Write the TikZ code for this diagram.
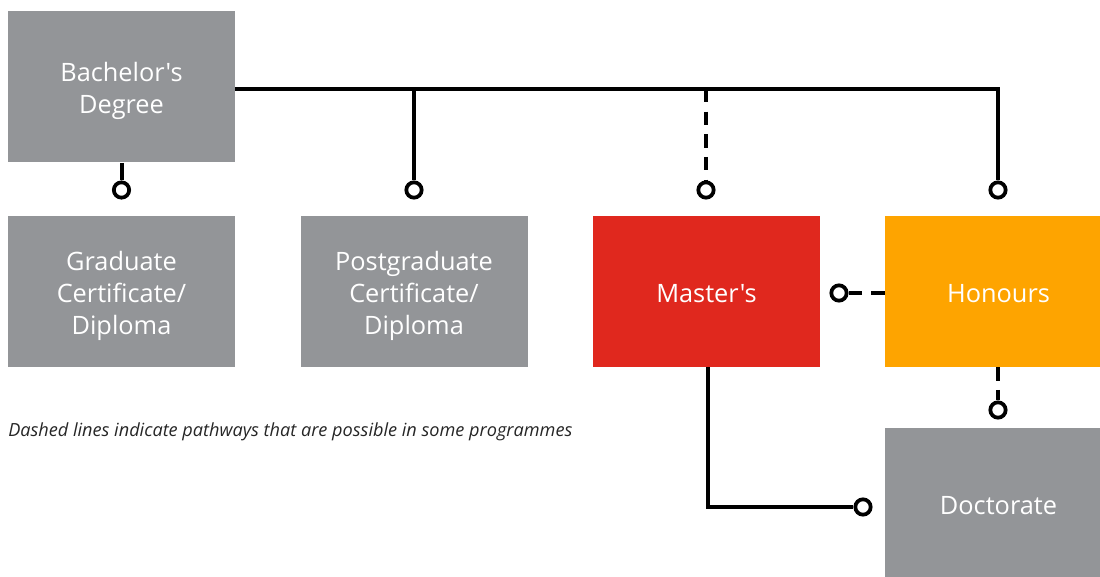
\documentclass[tikz,border=0pt]{standalone}
\usepackage{fontspec}
\setmainfont{Open Sans}[Ligatures=TeXOff]
\definecolor{boxgrey}{RGB}{147,149,152}
\definecolor{boxred}{RGB}{224,40,30}
\definecolor{boxorange}{RGB}{254,164,0}
\begin{document}
\begin{tikzpicture}[x=0.75pt,y=-0.75pt,
  stage/.style={fill=boxgrey, inner sep=0pt,
    minimum width=170.25pt, minimum height=113.25pt},
  lbl/.style={text=white, align=center, inner sep=0pt, yshift=-3pt,
    font=\fontsize{19}{24}\selectfont},
  lblone/.style={lbl, yshift=1.5pt},
  knob/.style={circle, draw=black, fill=white, line width=2.8pt, inner sep=0pt, minimum size=11.5pt},
  link/.style={line width=3pt, black},
  maybe/.style={link, dash pattern=on 10pt off 7pt}
]
\useasboundingbox (0,0) rectangle (1100,577);
\node[stage, label={[lbl]center:Bachelor's\\Degree}] (bach) at (121.5,87) {};
\node[stage, label={[lbl]center:Graduate\\Certificate/\\Diploma}] (grad) at (121.5,291.5) {};
\node[stage, label={[lbl]center:Postgraduate\\Certificate/\\Diploma}] (post) at (414,291.5) {};
\node[stage, fill=boxred, label={[lblone]center:Master's}] (mast) at (706.5,291.5) {};
\node[stage, fill=boxorange, label={[lblone]center:Honours}] (hon) at (998.5,291.5) {};
\node[stage, label={[lblone]center:Doctorate}] (doc) at (998.5,503.5) {};
\node[font=\fontsize{13.6}{16}\selectfont\itshape, anchor=west, inner sep=0pt, text=black!85] (note) at (8,432) {Dashed lines indicate pathways that are possible in some programmes};
% knobs
\node[knob] (k1) at (121.5,190) {};
\node[knob] (k2) at (414,190) {};
\node[knob] (k3) at (706,190) {};
\node[knob] (k4) at (998,190) {};
\node[knob] (k5) at (839,293) {};
\node[knob] (k6) at (998,410) {};
\node[knob] (k7) at (863,507) {};
\coordinate (jl) at (235,89);
\coordinate (j2) at (414,89);
\coordinate (j3) at (706,89);
\coordinate (jr) at (998,89);
% connectors
\draw[link] (bach.south) -- (k1.north);
\draw[link] (jl) -- (jr) -- (k4.north);
\draw[link] (j2) -- (k2.north);
\draw[maybe] (j3) -- (k3.north);
\draw[maybe] (hon.west |- k5) -- (k5.east);
\draw[maybe] (hon.south -| k6) -- (k6.north);
\draw[link] ([xshift=1.1pt]mast.south) |- (k7.west);
\end{tikzpicture}
\end{document}
